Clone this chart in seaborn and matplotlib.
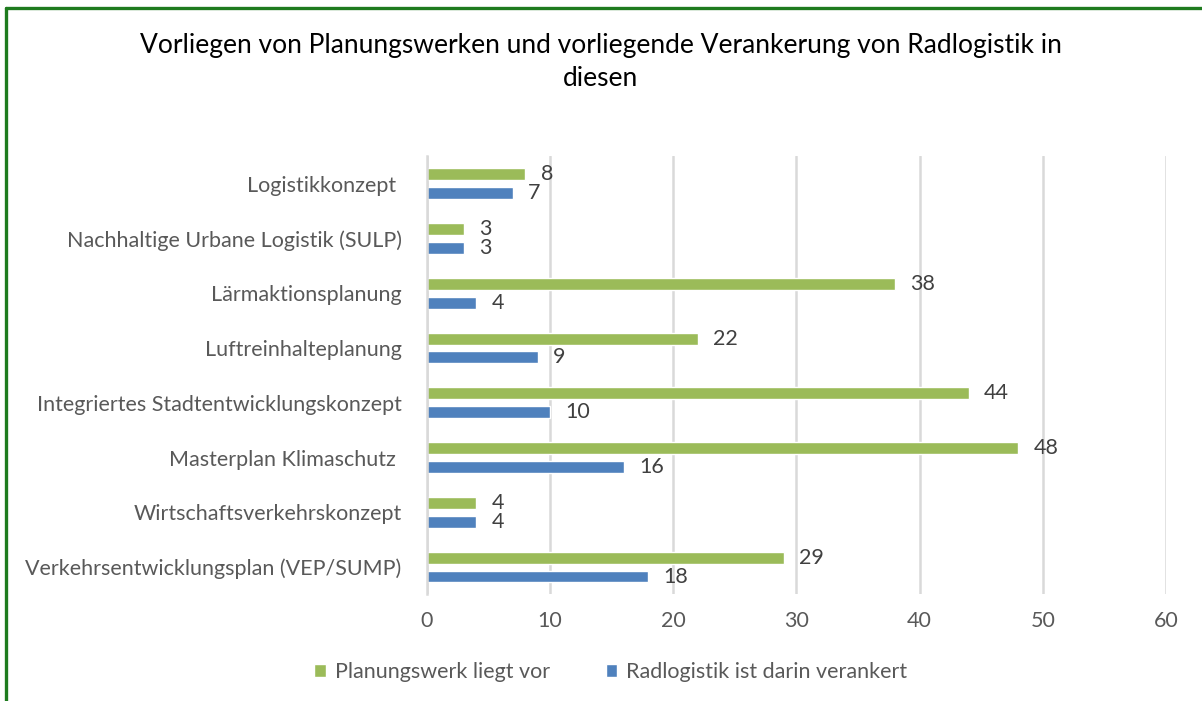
import pandas as pd
import matplotlib.pyplot as plt
import seaborn as sns
from matplotlib.lines import Line2D

categories = [
    "Logistikkonzept ",
    "Nachhaltige Urbane Logistik (SULP)",
    "Lärmaktionsplanung",
    "Luftreinhalteplanung",
    "Integriertes Stadtentwicklungskonzept",
    "Masterplan Klimaschutz ",
    "Wirtschaftsverkehrskonzept",
    "Verkehrsentwicklungsplan (VEP/SUMP)",
]
planungswerk = [8, 3, 38, 22, 44, 48, 4, 29]
radlogistik = [7, 3, 4, 9, 10, 16, 4, 18]
series_names = ["Planungswerk liegt vor", "Radlogistik ist darin verankert"]
title = "Vorliegen von Planungswerken und vorliegende Verankerung von Radlogistik in\ndiesen"

df = pd.DataFrame({
    "Planungswerk": categories * 2,
    "Anzahl": planungswerk + radlogistik,
    "Serie": [series_names[0]] * len(categories) + [series_names[1]] * len(categories),
})

sns.set_style("white")
plt.rcParams["font.family"] = ["Lato", "DejaVu Sans"]

fig = plt.figure(figsize=(12.02, 7.01), dpi=100)
ax = fig.add_axes([0.355, 0.152, 0.615, 0.625])

palette = {series_names[0]: "#9BBB59", series_names[1]: "#4F81BD"}
sns.barplot(data=df, y="Planungswerk", x="Anzahl", hue="Serie", order=categories,
            hue_order=series_names, palette=palette, orient="h", width=0.69, gap=0.37,
            saturation=1, ax=ax, legend=True)

for cont in ax.containers:
    ax.bar_label(cont, padding=11, fontsize=15.5, color="#404040")

ax.set_xlim(0, 60)
ax.set_xticks(range(0, 61, 10))
ax.xaxis.grid(True, color="#D9D9D9", linewidth=1.8)
ax.set_axisbelow(True)
ax.set_xlabel("")
ax.set_ylabel("")
ax.tick_params(axis="x", labelsize=15.5, labelcolor="#595959", length=0, pad=12)
ax.tick_params(axis="y", labelsize=15.5, labelcolor="#595959", length=0, pad=18)
for side in ["top", "right", "bottom"]:
    ax.spines[side].set_visible(False)
ax.spines["left"].set_color("#D9D9D9")
ax.spines["left"].set_linewidth(1.8)

ax.legend(loc="center", bbox_to_anchor=(0.508, 0.041), bbox_transform=fig.transFigure,
          ncol=2, frameon=False, fontsize=15.5, handlelength=0.55, handleheight=0.55,
          handletextpad=0.4, columnspacing=2.6, labelcolor="#595959")

fig.text(0.5, 0.911, title, ha="center", va="center", fontsize=19, color="#000000",
         linespacing=1.4)

# green frame (only top and left edges are visible in the reference crop)
frame_kw = dict(transform=fig.transFigure, color="#1E7B1E", linewidth=2.4)
fig.add_artist(Line2D([0.005, 1.0], [0.988, 0.988], **frame_kw))
fig.add_artist(Line2D([0.005, 0.005], [0.0, 0.988], **frame_kw))

fig.savefig("out.png", dpi=100)
